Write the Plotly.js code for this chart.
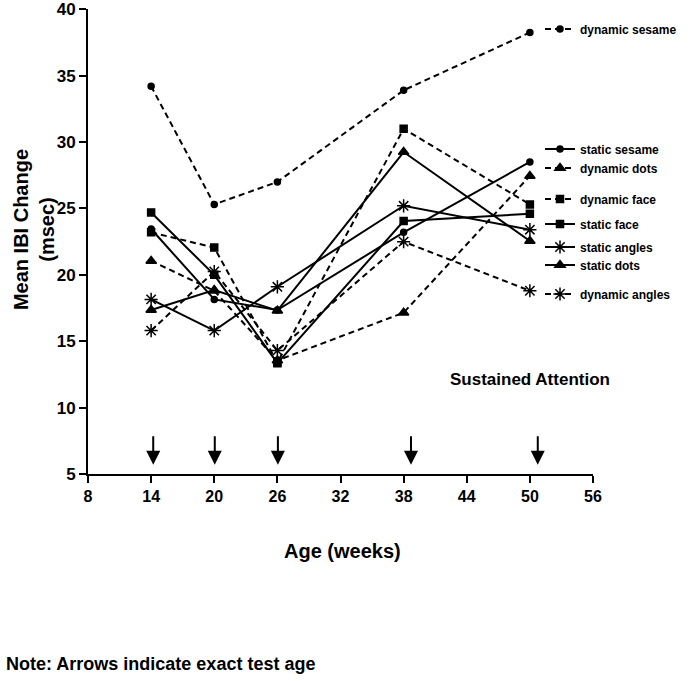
<!DOCTYPE html>
<html>
<head>
<meta charset="utf-8">
<script src="https://cdn.plot.ly/plotly-3.0.1.min.js"></script>
<style>html,body{margin:0;padding:0;background:#fff;}#chart{width:690px;height:681px;}</style>
</head>
<body>
<div id="chart"></div>
<script>
// ---- data ----
var ages = [14, 20, 26, 38, 50];
var dynamicSesame = [34.2, 25.3, 27.0, 33.9, 38.25];
var staticSesame  = [23.45, 18.15, 17.35, 23.2, 28.5];
var dynamicDots   = [21.05, 18.8, 13.55, 17.15, 27.45];
var dynamicFace   = [23.2, 22.05, 13.4, 31.0, 25.3];
var staticFace    = [24.7, 20.0, 13.35, 24.05, 24.6];
var staticAngles  = [18.15, 15.8, 19.1, 25.2, 23.4];
var staticDots    = [17.35, 18.85, 17.3, 29.25, 22.55];
var dynamicAngles = [15.8, 20.25, 14.3, 22.5, 18.8];
var seriesNames = ["dynamic sesame","static sesame","dynamic dots","dynamic face","static face","static angles","static dots","dynamic angles"];
var exactTestAges = [14.2, 20.05, 26.05, 38.7, 50.75];
var xTicks = [8, 14, 20, 26, 32, 38, 44, 50, 56];
var yTicks = [5, 10, 15, 20, 25, 30, 35, 40];

var FONT = "Liberation Sans, Arial, Helvetica, sans-serif";
var DASH = "6px,4px";

var specs = [
  {y: dynamicSesame, dash: DASH,    sym: "circle",        size: 6,  ly: 29},
  {y: staticSesame,  dash: "solid", sym: "circle",        size: 6,  ly: 149},
  {y: dynamicDots,   dash: DASH,    sym: "triangle-up",   size: 9,  ly: 168},
  {y: dynamicFace,   dash: DASH,    sym: "square",        size: 7,  ly: 199},
  {y: staticFace,    dash: "solid", sym: "square",        size: 7,  ly: 224},
  {y: staticAngles,  dash: "solid", sym: "asterisk-open", size: 11, ly: 247},
  {y: staticDots,    dash: "solid", sym: "triangle-up",   size: 9,  ly: 265},
  {y: dynamicAngles, dash: DASH,    sym: "asterisk-open", size: 11, ly: 294}
];

var M = {l: 88, r: 96, t: 9, b: 207};
var plotH = 681 - M.t - M.b;
var plotW = 690 - M.l - M.r;
function bold(v) { return "<b>" + v + "</b>"; }

var traces = [];
var layout = {
  width: 690, height: 681,
  margin: M,
  paper_bgcolor: "#fff", plot_bgcolor: "#fff",
  font: {family: FONT, color: "#000"},
  xaxis: {
    range: [8, 56], tickmode: "array", tickvals: xTicks, ticktext: xTicks.map(bold),
    showgrid: false, zeroline: false,
    showline: true, linewidth: 2, linecolor: "#000",
    ticks: "outside", ticklen: 7, tickwidth: 2, tickcolor: "#000",
    tickfont: {family: FONT, size: 16, color: "#000"}
  },
  yaxis: {
    range: [5, 40.02], tickmode: "array", tickvals: yTicks, ticktext: yTicks.map(bold),
    showgrid: false, zeroline: false,
    showline: true, linewidth: 2, linecolor: "#000",
    ticks: "outside", ticklen: 7, tickwidth: 2, tickcolor: "#000",
    tickfont: {family: FONT, size: 17, color: "#000"},
    ticklabeloverflow: "allow"
  },
  annotations: [],
  showlegend: true
};

specs.forEach(function (s, i) {
  var lg = i === 0 ? "legend" : "legend" + (i + 1);
  traces.push({
    type: "scatter", mode: "lines+markers",
    x: ages, y: s.y, name: bold(seriesNames[i]), legend: lg,
    line: {color: "#000", width: 2, dash: s.dash},
    marker: {color: "#000", symbol: s.sym, size: s.size, line: {color: "#000", width: 1.5}},
    cliponaxis: false
  });
  layout[lg] = {
    x: (540 - M.l) / plotW, xanchor: "left",
    y: (681 - M.b - s.ly) / plotH, yanchor: "middle",
    bgcolor: "rgba(0,0,0,0)", borderwidth: 0,
    font: {family: FONT, size: 12, color: "#000"}
  };
});

exactTestAges.forEach(function (a) {
  layout.annotations.push({
    x: a, y: 5.7, xref: "x", yref: "y",
    ax: a, ay: 7.95, axref: "x", ayref: "y",
    text: "", showarrow: true, arrowhead: 2, arrowsize: 1.4, arrowwidth: 2, arrowcolor: "#000"
  });
});

layout.annotations.push({
  x: 50, y: 12.1, xref: "x", yref: "y", text: bold("Sustained Attention"), showarrow: false,
  xanchor: "center", yanchor: "middle",
  font: {family: FONT, size: 17, color: "#000"}
});
layout.annotations.push({
  x: (34 - M.l) / plotW, y: (681 - M.b - 230) / plotH, xref: "paper", yref: "paper",
  xanchor: "center", yanchor: "middle",
  text: bold("Mean IBI Change") + "<br>" + bold("(msec)"), textangle: -90, showarrow: false,
  font: {family: FONT, size: 20, color: "#000"}
});
layout.annotations.push({
  x: (343 - M.l) / plotW, y: (681 - M.b - 551) / plotH, xref: "paper", yref: "paper",
  xanchor: "center", yanchor: "middle",
  text: bold("Age (weeks)"), showarrow: false,
  font: {family: FONT, size: 20, color: "#000"}
});
layout.annotations.push({
  x: (4 - M.l) / plotW, y: (681 - M.b - 664) / plotH, xref: "paper", yref: "paper",
  xanchor: "left", yanchor: "middle", text: bold("Note: Arrows indicate exact test age"), showarrow: false,
  font: {family: FONT, size: 18, color: "#000"}
});

Plotly.newPlot("chart", traces, layout, {displayModeBar: false, staticPlot: true});
</script>
</body>
</html>
